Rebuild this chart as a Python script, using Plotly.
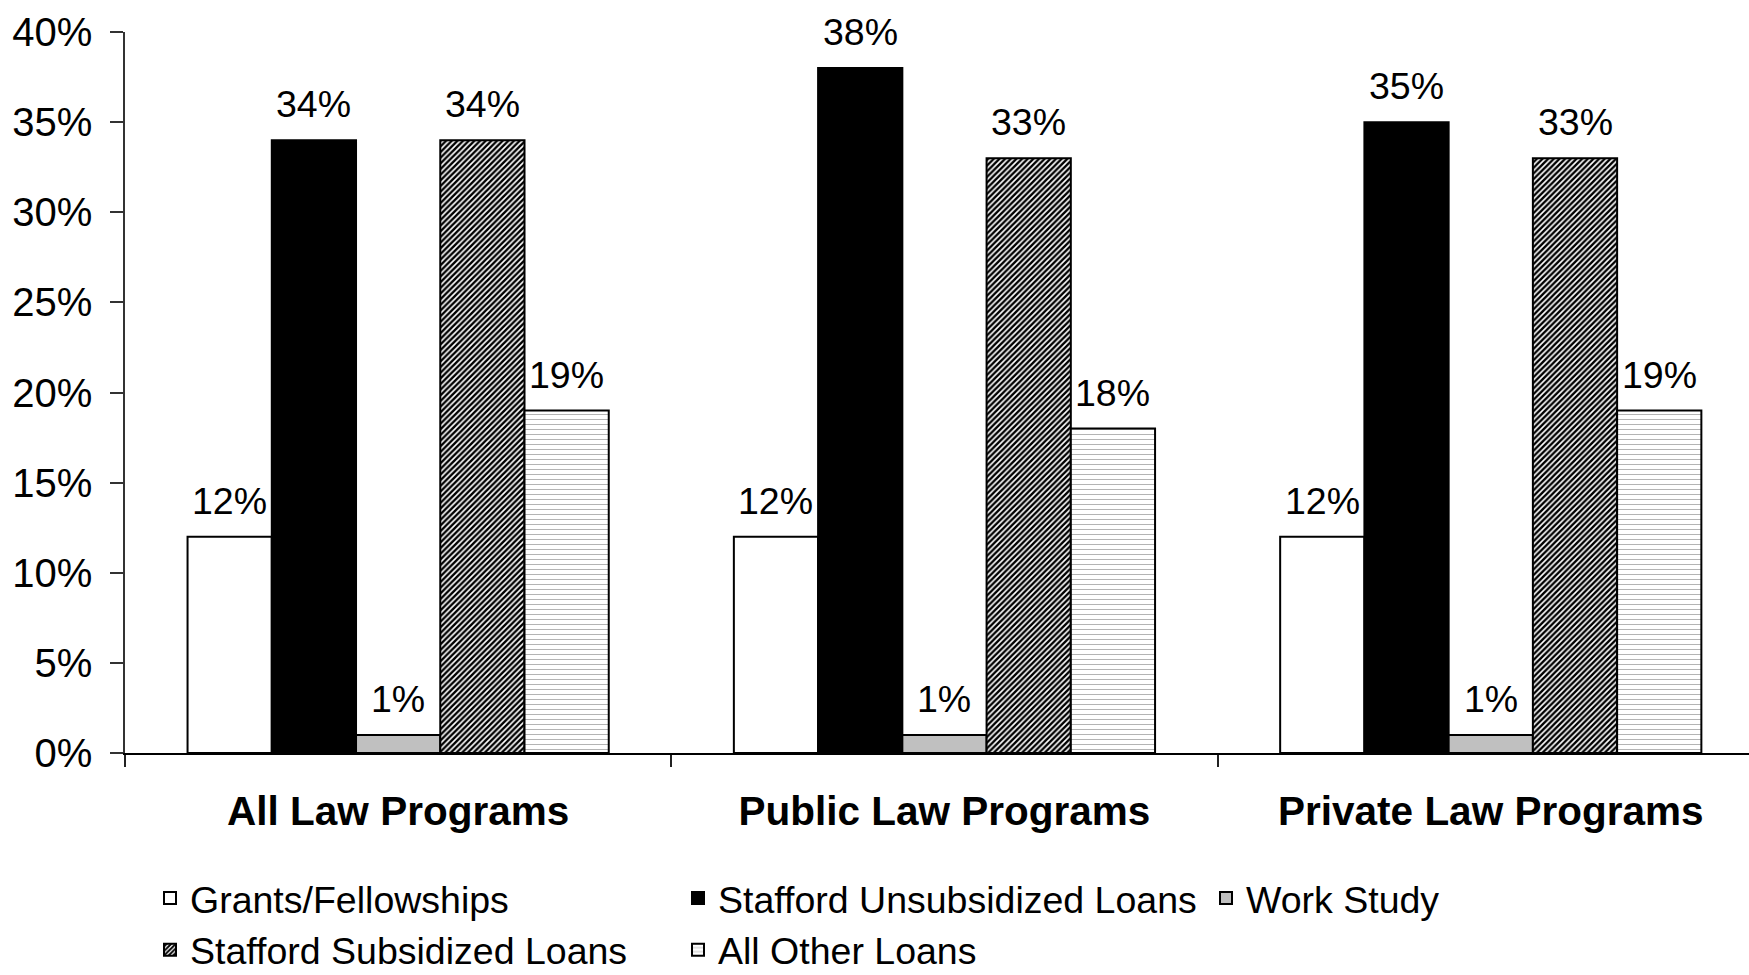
import plotly.graph_objects as go

# Share of law students receiving each type of aid, by program type
programs = ["All Law Programs", "Public Law Programs", "Private Law Programs"]
aid_types = [
    "Grants/Fellowships",
    "Stafford Unsubsidized Loans",
    "Work Study",
    "Stafford Subsidized Loans",
    "All Other Loans",
]
grants = [12, 12, 12]
stafford_unsub = [34, 38, 35]
work_study = [1, 1, 1]
stafford_sub = [34, 33, 33]
other_loans = [19, 18, 19]
series = [grants, stafford_unsub, work_study, stafford_sub, other_loans]

y_ticks = [0, 5, 10, 15, 20, 25, 30, 35, 40]

FONT = "Liberation Sans, Arial, sans-serif"
W, H = 1749, 975
BARGAP = 0.229
X_RANGE = [-0.5, 2.4727]

fills = [
    dict(color="white", pattern=dict(shape="")),
    dict(color="black", pattern=dict(shape="")),
    dict(color="#c0c0c0", pattern=dict(shape="")),
    dict(color="white", pattern=dict(shape="/", fgcolor="black", bgcolor="white",
                                      size=4, solidity=0.6, fillmode="replace")),
    dict(color="white", pattern=dict(shape="-", fgcolor="#b4b4b4", bgcolor="white",
                                      size=5, solidity=0.2, fillmode="replace")),
]

fig = go.Figure()
for name, vals, f in zip(aid_types, series, fills):
    fig.add_trace(go.Bar(
        x=programs, y=vals, name=name,
        marker=dict(color=f["color"], pattern=f["pattern"],
                    line=dict(color="black", width=2)),
        hoverinfo="skip",
    ))

# value labels above each bar, placed at the bar's slot within its group
n = len(series)
slot = (1 - BARGAP) / n
annotations = []
for i, vals in enumerate(series):
    for j, v in enumerate(vals):
        annotations.append(dict(
            x=j + (i - (n - 1) / 2) * slot, y=v, xref="x", yref="y",
            text=f"{v}%", showarrow=False, yanchor="bottom", yshift=13,
            font=dict(family=FONT, size=37.5, color="black"),
        ))

fig.update_layout(
    width=W, height=H,
    margin=dict(l=125, r=0, t=31.5, b=222, pad=0),
    paper_bgcolor="white", plot_bgcolor="white",
    barmode="group", bargap=BARGAP, bargroupgap=0,
    font=dict(family=FONT, color="black"),
    showlegend=True,
    legend=dict(
        orientation="h", xref="container", yref="container",
        x=150 / W, xanchor="left", y=1 - 867 / H, yanchor="top",
        font=dict(family=FONT, size=37.5, color="black"),
        entrywidth=483, entrywidthmode="pixels",
        traceorder="normal", bgcolor="rgba(0,0,0,0)",
    ),
    annotations=annotations,
)

fig.update_xaxes(
    range=X_RANGE, showline=True, linecolor="black", linewidth=2,
    ticks="outside", tickson="boundaries", ticklen=12, tickwidth=1.5, tickcolor="#222",
    tickfont=dict(family=FONT, size=40.5, color="black", weight="bold"),
    ticklabelstandoff=21, showgrid=False, zeroline=False,
)
fig.update_yaxes(
    range=[0, 40], tickvals=y_ticks, ticktext=[f"{t}%" for t in y_ticks],
    showline=True, linecolor="#333", linewidth=1.5,
    ticks="outside", ticklen=13, tickwidth=1.5, tickcolor="#333",
    tickfont=dict(family=FONT, size=40, color="black"),
    ticklabelstandoff=10, showgrid=False, zeroline=False,
)

fig.write_html("out.html")
